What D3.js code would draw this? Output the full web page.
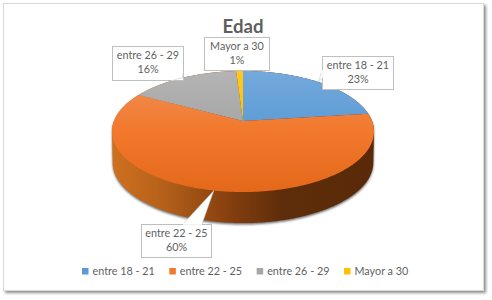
<!DOCTYPE html>
<html>
<head>
<meta charset="utf-8">
<script src="https://cdn.jsdelivr.net/npm/d3@7"></script>
<style>
  html, body { margin: 0; padding: 0; background: #fff; }
  svg { display: block; }
  text { font-family: Lato, "Open Sans", sans-serif; fill: #5f5f5f; }
</style>
</head>
<body>
<svg id="chart" width="492" height="300"></svg>
<script>
const categories = ["entre 18 - 21", "entre 22 - 25", "entre 26 - 29", "Mayor a 30"]
const percents = [23, 60, 16, 1]
const title = "Edad"

const svg = d3.select("#chart")
const defs = svg.append("defs")

// colours per slice: top / mid / bottom of the gradient
const sliceColors = [
    ["#74a9dc", "#5b9bd5", "#3f83c6"],
    ["#ef9058", "#f2782b", "#e3681a"],
    ["#b4b4b4", "#a5a5a5", "#8c8c8c"],
    ["#ffc822", "#ffc000", "#f0b400"]
]

// label boxes, same order as categories
const boxes = [
    {x: 322, y: 56, w: 71, h: 33},
    {x: 141, y: 224, w: 70, h: 33},
    {x: 112, y: 46, w: 71, h: 34},
    {x: 204, y: 37, w: 65, h: 33}
]
// where the leader leaves each box
const leaders = [
    [[322, 70], [322, 78]],
    [[183, 224], [202, 224]],
    [[172, 80], [183, 72]],
    null
]

// perspective of the tilted disc
const cx = 243, apexY = 121, radius = 129, persp = -0.1736, yA = 37.7
function project(a, drop = 0, shrink = 1) {
    const u = Math.sin(a), v = -Math.cos(a)
    const d = 1 + persp * v
    return [cx + shrink * radius * u / d, (yA * v + apexY) / d + drop]
}
const apex = [cx, apexY]

const pie = d3.pie().sort(null).value(d => d)
const arcs = pie(percents)

function sample(a0, a1) {
    const step = 0.01
    return d3.range(a0, a1, step).concat([a1])
}

// gradient helpers
function vGrad(id, stops, y1, y2) {
    const g = defs.append("linearGradient").attr("id", id)
        .attr("gradientUnits", "userSpaceOnUse")
        .attr("x1", 0).attr("x2", 0).attr("y1", y1).attr("y2", y2)
    stops.forEach((c, i) => g.append("stop")
        .attr("offset", i / (stops.length - 1)).attr("stop-color", c))
}
sliceColors.forEach((c, i) => vGrad("slice" + i, c, 71, 193))

const wallGrad = defs.append("linearGradient").attr("id", "wall")
    .attr("gradientUnits", "userSpaceOnUse")
    .attr("x1", 112).attr("x2", 374).attr("y1", 0).attr("y2", 0)
;[[0, "#d0701f"], [0.2, "#b4601a"], [0.45, "#853f0f"], [0.65, "#5e2d0a"], [1, "#5a2a08"]]
    .forEach(s => wallGrad.append("stop").attr("offset", s[0]).attr("stop-color", s[1]))

defs.append("filter").attr("id", "blur2")
    .attr("x", "-10%").attr("y", "-10%").attr("width", "120%").attr("height", "120%")
    .append("feGaussianBlur").attr("stdDeviation", 1.5)
defs.append("filter").attr("id", "blur1")
    .attr("x", "-10%").attr("y", "-10%").attr("width", "120%").attr("height", "120%")
    .append("feGaussianBlur").attr("stdDeviation", 1)

// chart frame with soft shadow
svg.append("rect").attr("x", 5).attr("y", 5).attr("width", 481).attr("height", 288)
    .attr("fill", "#8c8c8c").attr("filter", "url(#blur2)")
svg.append("rect").attr("x", 3.5).attr("y", 3.5).attr("width", 480).attr("height", 287)
    .attr("fill", "#fff").attr("stroke", "#d9d9d9")

// title
svg.append("text").attr("x", 243).attr("y", 33)
    .attr("text-anchor", "middle").attr("font-size", 18.6).attr("font-weight", 700)
    .text(title)

// side wall: hull of the upper and lower rim
const all = sample(0, 2 * Math.PI)
const hull = d3.polygonHull(all.map(a => project(a)).concat(all.map(a => project(a, 31, 0.995))))
const line = d3.line()

svg.append("path").attr("d", line(hull) + "Z")
    .attr("fill", "#6d6d6d").attr("transform", "translate(0,1.5)").attr("filter", "url(#blur1)")
svg.append("path").attr("d", line(hull) + "Z").attr("fill", "url(#wall)")

// top face slices
svg.selectAll("path.slice").data(arcs).enter().append("path")
    .attr("class", "slice")
    .attr("d", d => line([apex].concat(sample(d.startAngle, d.endAngle).map(a => project(a)))) + "Z")
    .attr("fill", (d, i) => "url(#slice" + i + ")")

// data labels with callouts
const labels = svg.selectAll("g.label").data(arcs).enter().append("g").attr("class", "label")

labels.append("rect")
    .attr("x", (d, i) => boxes[i].x + 0.5).attr("y", (d, i) => boxes[i].y + 0.5)
    .attr("width", (d, i) => boxes[i].w).attr("height", (d, i) => boxes[i].h)
    .attr("fill", "#fff").attr("stroke", "#bfbfbf")

labels.filter((d, i) => leaders[i]).append("path")
    .attr("d", (d) => {
        const tip = project((d.startAngle + d.endAngle) / 2)
        const l = leaders[d.index]
        return line([l[0], tip, l[1]])
    })
    .attr("fill", "#fff").attr("stroke", "#bfbfbf").attr("stroke-width", 0.5)

// cover the box edge under the leader base
labels.filter((d, i) => leaders[i]).append("path")
    .attr("d", (d) => line(leaders[d.index]))
    .attr("stroke", "#fff").attr("stroke-width", 1.6)

labels.append("text")
    .attr("x", (d, i) => boxes[i].x + boxes[i].w / 2 + 0.5).attr("y", (d, i) => boxes[i].y + 12.5)
    .attr("text-anchor", "middle").attr("font-size", 10.8)
    .text((d, i) => categories[i])
labels.append("text")
    .attr("x", (d, i) => boxes[i].x + boxes[i].w / 2 + 0.5).attr("y", (d, i) => boxes[i].y + 27)
    .attr("text-anchor", "middle").attr("font-size", 10.8)
    .text(d => d.data + "%")

// legend
const legendX = d3.scalePoint().domain(categories).range([82, 344])
const legend = svg.selectAll("g.legend").data(categories).enter().append("g")
    .attr("class", "legend")
    .attr("transform", d => "translate(" + legendX(d) + ",0)")
legend.append("rect").attr("y", 268).attr("width", 6.5).attr("height", 6.5)
    .attr("fill", (d, i) => sliceColors[i][1])
legend.append("text").attr("x", 10.5).attr("y", 275).attr("font-size", 10.8)
    .text(d => d)
</script>
</body>
</html>
